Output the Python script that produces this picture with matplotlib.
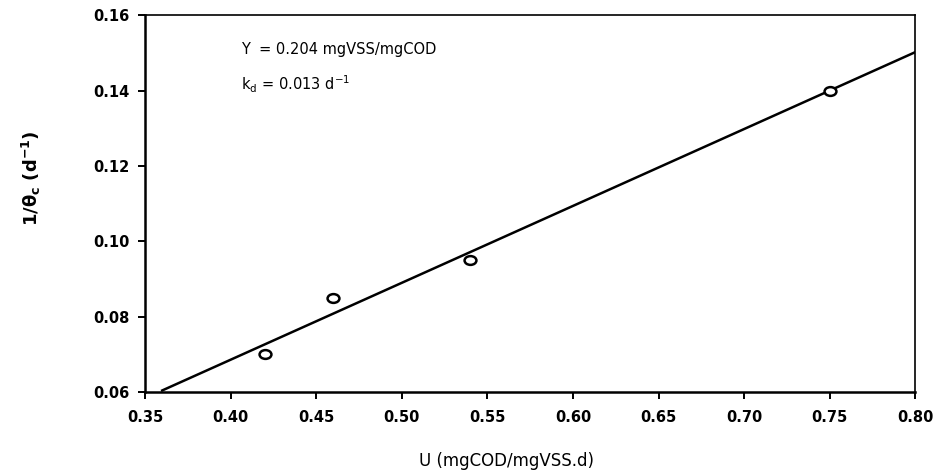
import numpy as np
import matplotlib
matplotlib.use("Agg")
import matplotlib.pyplot as plt
from matplotlib.markers import MarkerStyle
from matplotlib.transforms import Affine2D
from matplotlib.ticker import FormatStrFormatter

# data
u_vals = [0.42, 0.46, 0.54, 0.75]
inv_theta = [0.070, 0.085, 0.095, 0.140]
yield_coef = 0.204
kd = 0.013
line_x = [0.36, 0.80]

plt.rcParams['font.family'] = ['DejaVu Sans']
plt.rcParams['mathtext.fontset'] = 'dejavusans'

fig = plt.figure(figsize=(9.36, 4.73), dpi=100)
ax = fig.add_axes([0.155, 0.171, 0.823, 0.797])

lx = np.array(line_x)
ax.plot(lx, yield_coef * lx - kd, color="black", lw=1.8)

# open ellipses, a bit wider than tall
oval = MarkerStyle("o", transform=Affine2D().scale(1.35, 1.0))
ax.scatter(u_vals, inv_theta, s=40, facecolors="white", edgecolors="black",
           linewidths=1.8, marker=oval, zorder=3)

ax.set_xlim(0.35, 0.80)
ax.set_ylim(0.06, 0.16)
ax.set_xticks(np.arange(0.35, 0.801, 0.05))
ax.set_yticks(np.arange(0.06, 0.161, 0.02))
ax.xaxis.set_major_formatter(FormatStrFormatter('%.2f'))
ax.yaxis.set_major_formatter(FormatStrFormatter('%.2f'))
ax.tick_params(direction="out", length=5, width=1.4, labelsize=10.5, pad=6)
ax.tick_params(axis="x", pad=8)
for lab in ax.get_xticklabels() + ax.get_yticklabels():
    lab.set_fontweight("bold")
ax.spines["left"].set_linewidth(1.8)
ax.spines["bottom"].set_linewidth(1.8)
ax.spines["top"].set_linewidth(1.2)
ax.spines["right"].set_linewidth(1.2)

ax.set_xlabel("U (mgCOD/mgVSS.d)", fontsize=12)
ax.xaxis.set_label_coords(0.469, -0.158)
ax.set_ylabel(r"1/$\mathregular{\theta_c}$ (d$^{\mathregular{-1}}$)",
              fontsize=13, fontweight="bold")
ax.yaxis.set_label_coords(-0.132, 0.567)

ax.text(0.125, 0.91, "Y  = 0.204 mgVSS/mgCOD", transform=ax.transAxes,
        fontsize=10.5, va="center")
ax.text(0.125, 0.817, r"k$_{\mathregular{d}}$ = 0.013 d$^{\mathregular{-1}}$",
        transform=ax.transAxes, fontsize=10.5, va="center")

fig.savefig("out.png", dpi=100)
